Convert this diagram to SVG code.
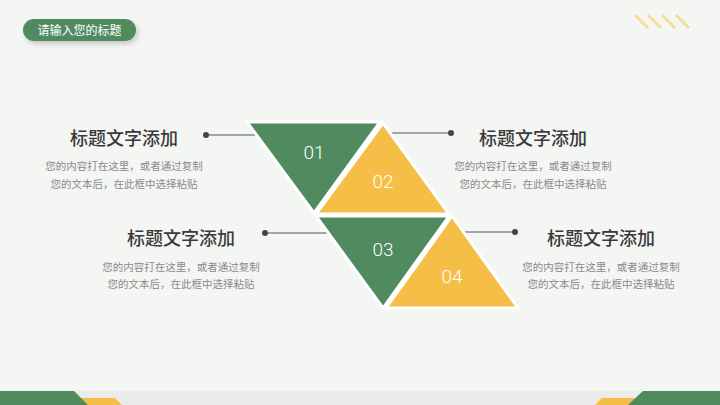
<svg xmlns="http://www.w3.org/2000/svg" width="720" height="405" viewBox="0 0 720 405">
  <defs>
    <style>
      .g{fill:#4f8b5e}
      .y{fill:#f5be46}
      .tri{stroke:#ffffff;stroke-width:3;stroke-linejoin:miter}
      .num{font-family:Roboto,"Liberation Sans",sans-serif;font-weight:300;font-size:19px;fill:#ffffff;text-anchor:middle}
      .title{font-family:"Noto Sans CJK SC","Noto Sans",sans-serif;font-size:18px;fill:#3a3a3a;text-anchor:middle;font-weight:500}
      .desc{font-family:"Noto Sans CJK SC","Noto Sans",sans-serif;font-size:10.5px;fill:#8a8a8a;text-anchor:middle}
      .line{stroke:#555555;stroke-width:1.2;fill:none}
      .dot{fill:#444444}
      .stripe{stroke:#f8dc9c;stroke-width:3}
    </style>
    <filter id="sh" x="-20%" y="-40%" width="140%" height="200%">
      <feDropShadow dx="2" dy="3" stdDeviation="2.5" flood-color="#000" flood-opacity="0.18"/>
    </filter>
  </defs>
  <rect width="720" height="405" fill="#f4f6f4"/>

  <!-- header -->
  <g id="header">
    <rect x="23" y="19" width="113" height="22" rx="11" class="g" filter="url(#sh)"/>
    <text x="79.5" y="34.5" font-family="Noto Sans CJK SC,sans-serif" font-size="12" fill="#ffffff" text-anchor="middle">请输入您的标题</text>
  </g>
  <g id="stripes">
    <line class="stripe" x1="635" y1="15" x2="648" y2="28"/>
    <line class="stripe" x1="648" y1="15" x2="661" y2="28"/>
    <line class="stripe" x1="662" y1="15" x2="675" y2="28"/>
    <line class="stripe" x1="676" y1="15" x2="689" y2="28"/>
  </g>

  <!-- bottom decoration -->
  <g id="footer">
    <rect x="0" y="391" width="720" height="14" fill="#ebebeb"/>
    <polygon class="y" points="80,398 115,398 122,405 80,405"/>
    <polygon class="g" points="0,391 74,391 88,405 0,405"/>
    <polygon class="y" points="602,398 640,398 640,405 595,405"/>
    <polygon class="g" points="643,391 720,391 720,405 628,405"/>
  </g>

  <!-- connectors -->
  <g id="connectors">
    <line class="line" x1="206" y1="135" x2="262" y2="135"/>
    <circle class="dot" cx="206" cy="135" r="3"/>
    <line class="line" x1="388" y1="133" x2="451" y2="133"/>
    <circle class="dot" cx="451" cy="133" r="3"/>
    <line class="line" x1="265" y1="233" x2="332" y2="233"/>
    <circle class="dot" cx="265" cy="233" r="3"/>
    <line class="line" x1="458" y1="232" x2="515" y2="232"/>
    <circle class="dot" cx="515" cy="232" r="3"/>
  </g>

  <!-- triangles -->
  <g id="node1">
    <polygon class="g tri" points="247,122 380,122 314,213"/>
    <text class="num" x="314" y="159">01</text>
  </g>
  <g id="node2">
    <polygon class="y tri" points="383,123 449,214 316,214"/>
    <text class="num" x="383" y="188">02</text>
  </g>
  <g id="node3">
    <polygon class="g tri" points="316,216 449,216 383,308"/>
    <text class="num" x="383" y="256">03</text>
  </g>
  <g id="node4">
    <polygon class="y tri" points="452,216 518,308 386,308"/>
    <text class="num" x="452" y="283">04</text>
  </g>

  <!-- text blocks -->
  <g id="text1">
    <text class="title" x="124" y="145">标题文字添加</text>
    <text class="desc" x="124" y="170">您的内容打在这里，或者通过复制</text>
    <text class="desc" x="124" y="188">您的文本后，在此框中选择粘贴</text>
  </g>
  <g id="text2">
    <text class="title" x="533" y="145">标题文字添加</text>
    <text class="desc" x="533" y="170">您的内容打在这里，或者通过复制</text>
    <text class="desc" x="533" y="188">您的文本后，在此框中选择粘贴</text>
  </g>
  <g id="text3">
    <text class="title" x="181" y="245">标题文字添加</text>
    <text class="desc" x="181" y="271">您的内容打在这里，或者通过复制</text>
    <text class="desc" x="181" y="288">您的文本后，在此框中选择粘贴</text>
  </g>
  <g id="text4">
    <text class="title" x="601" y="245">标题文字添加</text>
    <text class="desc" x="601" y="271">您的内容打在这里，或者通过复制</text>
    <text class="desc" x="601" y="288">您的文本后，在此框中选择粘贴</text>
  </g>
</svg>
